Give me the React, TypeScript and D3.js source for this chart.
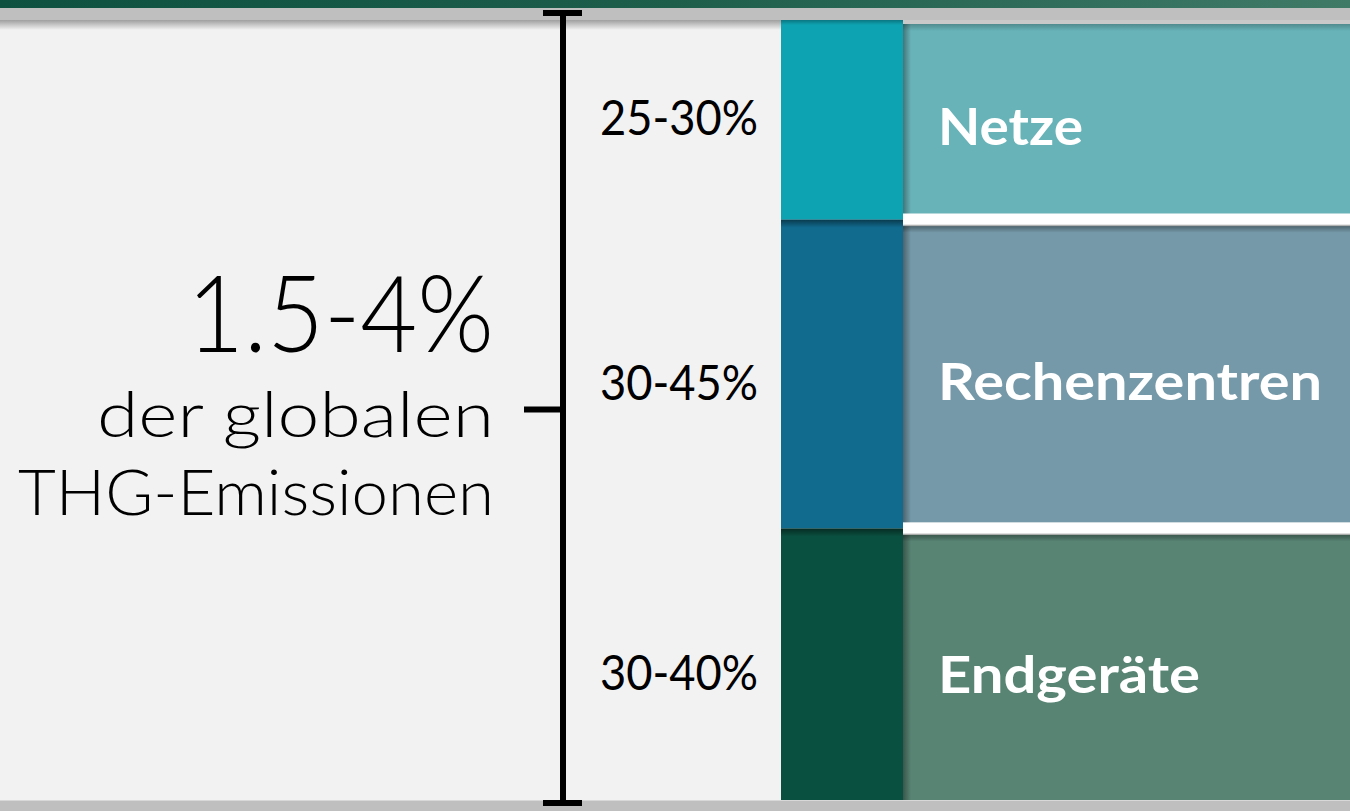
import React from "react";
import * as d3 from "d3";

const categories = ["Netze", "Rechenzentren", "Endgeräte"];
const rangeLabels = ["25-30%", "30-45%", "30-40%"];
// share of the bar height each segment takes
const shares = [25.6, 39.6, 34.8];
const headline = "1.5-4%";
const subLines = ["der globalen", "THG-Emissionen"];

const darkColors = ["#0ea3b2", "#116b8f", "#0a5040"];
const lightColors = ["#67b3b8", "#7599a8", "#588474"];

// rendered text widths (layout only)
const catWidths = [145, 384, 262];
const subWidths = [397, 476];

const W = 1350;
const H = 811;

export default function App() {
  const y = d3.scaleLinear().domain([0, 100]).range([20, 800]);
  const cum = d3.cumsum(shares);
  const segs = categories.map((c, i) => {
    const s = i === 0 ? 0 : cum[i - 1];
    const e = cum[i];
    return { c, i, y0: y(s), y1: y(e) };
  });
  const colX0 = 781;
  const colX1 = 903;
  const gap = 6;
  const font = "Lato, 'Open Sans', sans-serif";
  const bracketTop = 13;
  const bracketBot = 806;
  const mid = (bracketTop + bracketBot) / 2;

  return (
    <svg
      width={W}
      height={H}
      style={{ position: "absolute", left: 0, top: 0, display: "block" }}
    >
      <defs>
        <linearGradient id="topBand" x1="0" x2="1" y1="0" y2="0">
          <stop offset="0" stopColor="#0e5140" />
          <stop offset="0.5" stopColor="#1d5e4b" />
          <stop offset="1" stopColor="#3f7a67" />
        </linearGradient>
        <linearGradient id="topShadow" x1="0" x2="0" y1="0" y2="1">
          <stop offset="0" stopColor="#9f9f9f" />
          <stop offset="1" stopColor="#f2f2f2" />
        </linearGradient>
        <linearGradient id="leftShadow" x1="0" x2="1" y1="0" y2="0">
          <stop offset="0" stopColor="#000" stopOpacity="0.35" />
          <stop offset="1" stopColor="#000" stopOpacity="0" />
        </linearGradient>
        <linearGradient id="downShadow" x1="0" x2="0" y1="0" y2="1">
          <stop offset="0" stopColor="#000" stopOpacity="0.45" />
          <stop offset="1" stopColor="#000" stopOpacity="0" />
        </linearGradient>
      </defs>

      {/* background */}
      <rect x={0} y={0} width={W} height={H} fill="#f2f2f2" />
      <rect x={0} y={0} width={W} height={8} fill="url(#topBand)" />
      <rect x={0} y={8} width={W} height={12} fill="#bfbfbf" />
      <rect x={0} y={20} width={W} height={10} fill="url(#topShadow)" />

      {/* left dark column */}
      {segs.map((s) => (
        <rect
          key={"d" + s.c}
          x={colX0}
          y={s.y0}
          width={colX1 - colX0}
          height={s.y1 - s.y0}
          fill={darkColors[s.i]}
        />
      ))}
      {segs.slice(1).map((s) => (
        <rect
          key={"ds" + s.c}
          x={colX0}
          y={s.y0}
          width={colX1 - colX0}
          height={8}
          fill="url(#downShadow)"
        />
      ))}
      <rect x={colX0} y={20} width={colX1 - colX0} height={5} fill="url(#downShadow)" opacity={0.6} />

      {/* right light panels */}
      {segs.map((s) => {
        const t = s.i === 0 ? 24 : s.y0 + gap;
        const b = s.i === segs.length - 1 ? s.y1 : s.y1 - gap;
        return (
          <g key={"l" + s.c}>
            <rect x={colX1} y={t} width={W - colX1} height={b - t} fill={lightColors[s.i]} />
            <rect x={colX1} y={t} width={W - colX1} height={7} fill="url(#downShadow)" opacity={s.i === 0 ? 0.5 : 0.8} />
            <rect x={colX1} y={t} width={8} height={b - t} fill="url(#leftShadow)" />
            <text
              x={938}
              y={(t + b) / 2 + 6}
              dominantBaseline="central"
              fill="#ffffff"
              fontFamily={font}
              fontWeight={700}
              fontSize={52}
              textLength={catWidths[s.i]}
              lengthAdjust="spacingAndGlyphs"
            >
              {s.c}
            </text>
          </g>
        );
      })}
      {segs.slice(1).map((s) => (
        <g key={"w" + s.c}>
          <rect x={colX1} y={s.y0 - gap} width={W - colX1} height={gap * 2} fill="#ffffff" />
          <rect x={colX1} y={s.y0 + gap - 1} width={W - colX1} height={1.5} fill="#9a9a9a" opacity={0.7} />
        </g>
      ))}
      <rect x={colX1} y={20} width={W - colX1} height={4} fill="#c9c9c9" />

      {/* range labels */}
      {segs.map((s) => (
        <text
          key={"r" + s.c}
          x={600}
          y={(s.y0 + s.y1) / 2 + (s.i === 0 ? -3 : 7)}
          dominantBaseline="central"
          fill="#000"
          fontFamily={font}
          fontWeight={400}
          fontSize={48}
          textLength={158}
          lengthAdjust="spacingAndGlyphs"
        >
          {rangeLabels[s.i]}
        </text>
      ))}

      {/* bottom band */}
      <rect x={0} y={800} width={W} height={11} fill="#bfbfbf" />
      <rect x={0} y={800} width={W} height={1} fill="#d8d8d8" />

      {/* bracket */}
      <rect x={560} y={bracketTop} width={6} height={bracketBot - bracketTop} fill="#000" />
      <rect x={543} y={10} width={39} height={6} fill="#000" />
      <rect x={543} y={800} width={39} height={6} fill="#000" />
      <rect x={524} y={mid - 3} width={37} height={6} fill="#000" />

      {/* headline text */}
      <text
        x={494}
        y={352}
        textAnchor="end"
        fill="#000"
        fontFamily={font}
        fontWeight={300}
        fontSize={106}
        textLength={307}
        lengthAdjust="spacingAndGlyphs"
      >
        {headline}
      </text>
      {subLines.map((t, i) => (
        <text
          key={t}
          x={494}
          y={437 + i * 78}
          textAnchor="end"
          fill="#000"
          fontFamily={font}
          fontWeight={300}
          fontSize={64}
          textLength={subWidths[i]}
          lengthAdjust="spacingAndGlyphs"
        >
          {t}
        </text>
      ))}
    </svg>
  );
}
